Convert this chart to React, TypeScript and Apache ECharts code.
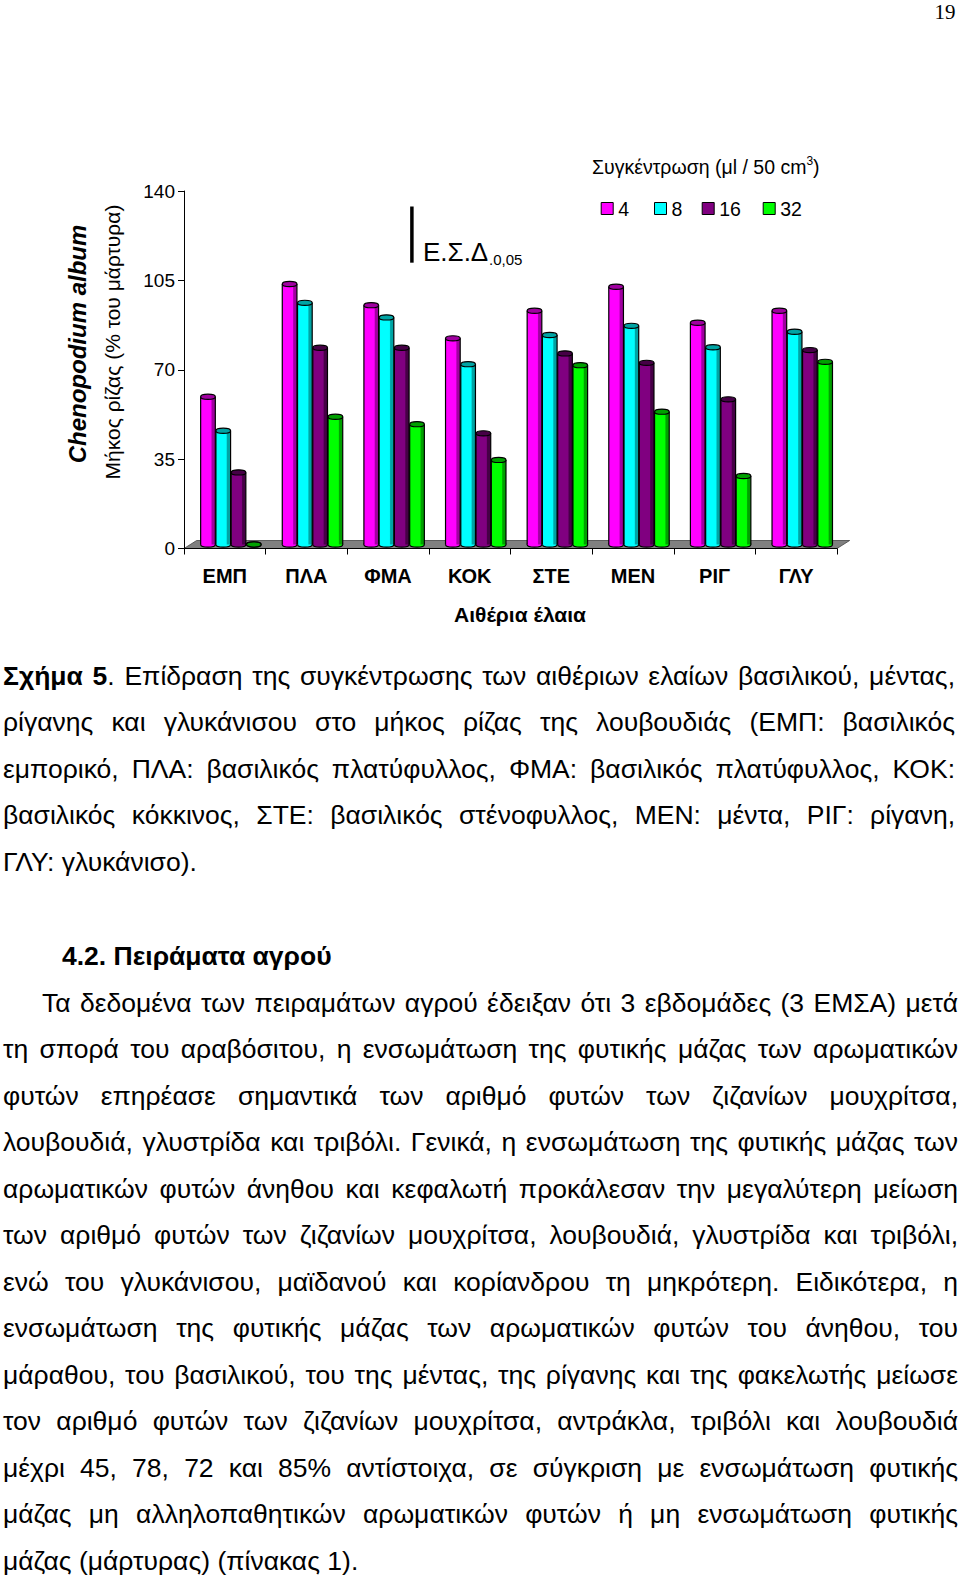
import React, { useEffect, useRef } from "react";
import * as echarts from "echarts";

// ---------- data ----------
const categories = ["ΕΜΠ", "ΠΛΑ", "ΦΜΑ", "ΚΟΚ", "ΣΤΕ", "ΜΕΝ", "ΡΙΓ", "ΓΛΥ"];
const seriesNames = ["4", "8", "16", "32"];
const values4 = [59.4, 103.6, 95.3, 82.3, 93.1, 102.5, 88.4, 93.1];
const values8 = [46.1, 96.2, 90.5, 72.2, 83.6, 87.2, 78.8, 84.9];
const values16 = [29.8, 78.6, 78.6, 45.1, 76.4, 72.7, 58.4, 77.7];
const values32 = [0.5, 51.6, 48.7, 34.7, 71.8, 53.6, 28.4, 73.1];
const seriesValues = [values4, values8, values16, values32];
const yMin = 0;
const yMax = 140;
const yInterval = 35;
const lsdValue = 22;
const yAxisTitle = "Μήκος ρίζας (% του μάρτυρα)";
const speciesTitle = "Chenopodium album";
const xAxisTitle = "Αιθέρια έλαια";
const legendTitle = "Συγκέντρωση (μl / 50 cm";
const pageNumber = "19";

const captionBold = "Σχήμα 5";
const captionLines = [
  ". Επίδραση της συγκέντρωσης των αιθέριων ελαίων βασιλικού, μέντας,",
  "ρίγανης και γλυκάνισου στο μήκος ρίζας της λουβουδιάς (ΕΜΠ: βασιλικός",
  "εμπορικό, ΠΛΑ: βασιλικός πλατύφυλλος, ΦΜΑ: βασιλικός πλατύφυλλος, ΚΟΚ:",
  "βασιλικός κόκκινος, ΣΤΕ: βασιλικός στένοφυλλος, ΜΕΝ: μέντα, ΡΙΓ: ρίγανη,",
  "ΓΛΥ: γλυκάνισο).",
];
const heading = "4.2. Πειράματα αγρού";
const bodyLines = [
  "Τα δεδομένα των πειραμάτων αγρού έδειξαν ότι 3 εβδομάδες (3 ΕΜΣΑ) μετά",
  "τη σπορά του αραβόσιτου, η ενσωμάτωση της φυτικής μάζας των αρωματικών",
  "φυτών επηρέασε σημαντικά των αριθμό φυτών των ζιζανίων μουχρίτσα,",
  "λουβουδιά, γλυστρίδα και τριβόλι. Γενικά, η ενσωμάτωση της φυτικής μάζας των",
  "αρωματικών φυτών άνηθου και κεφαλωτή προκάλεσαν την μεγαλύτερη μείωση",
  "των αριθμό φυτών των ζιζανίων μουχρίτσα, λουβουδιά, γλυστρίδα και τριβόλι,",
  "ενώ του γλυκάνισου, μαϊδανού και κορίανδρου τη μηκρότερη. Ειδικότερα, η",
  "ενσωμάτωση της φυτικής μάζας των αρωματικών φυτών του άνηθου, του",
  "μάραθου, του βασιλικού, του της μέντας, της ρίγανης και της φακελωτής μείωσε",
  "τον αριθμό φυτών των ζιζανίων μουχρίτσα, αντράκλα, τριβόλι και λουβουδιά",
  "μέχρι 45, 78, 72 και 85% αντίστοιχα, σε σύγκριση με ενσωμάτωση φυτικής",
  "μάζας μη αλληλοπαθητικών αρωματικών φυτών ή μη ενσωμάτωση φυτικής",
  "μάζας (μάρτυρας) (πίνακας 1).",
];

// ---------- styles ----------
const COLORS = ["#FF00FF", "#00FFFF", "#800080", "#00FF00"];
const DARK = ["#A000A0", "#00A4A4", "#460046", "#00A000"];
const FONT = "'Liberation Sans', Arial, Helvetica, sans-serif";
const TEXT_SIZE = 26.5;
const LINE_STEP = 46.5;

function barRenderer(s: number) {
  return (params: any, api: any) => {
    const ci = api.value(0);
    const v = api.value(1);
    const base = api.coord([ci, 0]);
    const top = api.coord([ci, v]);
    const catW = api.size([1, 0])[0];
    const bw = catW * 0.187;
    const dx = catW * 0.078;
    const dy = 4;
    const w = bw - 0.6;
    const x = base[0] - 2 * bw + dx + s * bw;
    const bottom = base[1] - dy;
    const topY = Math.min(top[1], bottom);
    const ry = 2.6;
    const fill = new echarts.graphic.LinearGradient(0, 0, 1, 0, [
      { offset: 0, color: COLORS[s] },
      { offset: 0.7, color: COLORS[s] },
      { offset: 0.78, color: DARK[s] },
      { offset: 1, color: DARK[s] },
    ]);
    return {
      type: "group",
      children: [
        {
          type: "ellipse",
          shape: { cx: x + w / 2, cy: bottom, rx: w / 2, ry },
          style: { fill: COLORS[s], stroke: "#000", lineWidth: 1.2 },
        },
        {
          type: "rect",
          shape: { x, y: topY, width: w, height: bottom - topY },
          style: { fill, stroke: null },
        },
        {
          type: "line",
          shape: { x1: x, y1: topY, x2: x, y2: bottom },
          style: { stroke: "#000", lineWidth: 1.2 },
        },
        {
          type: "line",
          shape: { x1: x + w, y1: topY, x2: x + w, y2: bottom },
          style: { stroke: "#000", lineWidth: 1.2 },
        },
        {
          type: "ellipse",
          shape: { cx: x + w / 2, cy: topY, rx: w / 2, ry },
          style: { fill: DARK[s], stroke: "#000", lineWidth: 1.2 },
        },
      ],
    };
  };
}

function floorRenderer(params: any, api: any) {
  const cs = params.coordSys;
  const catW = api.size([1, 0])[0];
  const d = catW * 0.155;
  const yb = cs.y + cs.height;
  return {
    type: "polygon",
    shape: {
      points: [
        [cs.x, yb],
        [cs.x + cs.width, yb],
        [cs.x + cs.width + d, yb - 8],
        [cs.x + d, yb - 8],
      ],
    },
    style: { fill: "#808080", stroke: "#444", lineWidth: 0.8 },
  };
}

function lsdRenderer(params: any, api: any) {
  const cs = params.coordSys;
  const len = api.size([0, lsdValue])[1];
  const x = cs.x + cs.width * 0.349;
  const y0 = cs.y + 15.5;
  return {
    type: "line",
    shape: { x1: x, y1: y0, x2: x, y2: y0 + len },
    style: { stroke: "#000", lineWidth: 3.5 },
  };
}

const legendLefts = [600.7, 654, 701.7, 762.7];

export default function App() {
  const ref = useRef<HTMLDivElement>(null);

  useEffect(() => {
    const chart = echarts.init(ref.current as HTMLDivElement, null, { renderer: "svg" });
    const barSeries = seriesValues.map((vals, s) => ({
      type: "custom",
      name: seriesNames[s],
      data: vals.map((v, i) => [i, v]),
      encode: { x: 0, y: 1 },
      renderItem: barRenderer(s),
      itemStyle: { color: COLORS[s], borderColor: "#000", borderWidth: 1 },
      z: 3,
      silent: true,
    }));
    chart.setOption({
      animation: false,
      textStyle: { fontFamily: FONT },
      grid: { left: 184, right: 123, top: 191, bottom: 91.5, containLabel: false },
      xAxis: {
        type: "category",
        data: categories,
        z: 5,
        axisLine: { lineStyle: { color: "#000", width: 1 } },
        axisTick: { show: true, length: 6, interval: 0, alignWithLabel: false, lineStyle: { color: "#000" } },
        axisLabel: { interval: 0, margin: 17, fontSize: 20, fontWeight: "bold", color: "#000", fontFamily: FONT },
        name: xAxisTitle,
        nameLocation: "middle",
        nameGap: 55,
        nameTextStyle: { fontSize: 21, fontWeight: "bold", color: "#000", fontFamily: FONT, padding: [0, 0, 0, 19] },
      },
      yAxis: {
        type: "value",
        min: yMin,
        max: yMax,
        interval: yInterval,
        z: 5,
        axisLine: { show: true, lineStyle: { color: "#000", width: 1 } },
        axisTick: { show: true, length: 6, lineStyle: { color: "#000" } },
        axisLabel: { margin: 9, fontSize: 19, color: "#000", fontFamily: FONT },
        splitLine: { show: false },
      },
      legend: seriesNames.map((n, i) => ({
        data: [n],
        left: legendLefts[i],
        top: 198.5,
        padding: 0,
        icon: "rect",
        itemWidth: 12,
        itemHeight: 12,
        selectedMode: false,
        textStyle: { fontSize: 19.5, color: "#000", fontFamily: FONT },
        itemStyle: { borderColor: "#000", borderWidth: 1 },
      })),
      series: [
        {
          type: "custom",
          name: "floor",
          data: [[0, 0]],
          encode: { x: 0, y: 1 },
          renderItem: floorRenderer,
          z: 1,
          silent: true,
        },
        ...barSeries,
        {
          type: "custom",
          name: "lsd",
          data: [[0, 0]],
          encode: { x: 0, y: 1 },
          renderItem: lsdRenderer,
          z: 3,
          silent: true,
        },
      ],
      graphic: {
        elements: [
          {
            type: "text",
            x: 945,
            y: 12,
            style: { text: pageNumber, fontSize: 21, fontFamily: "'Liberation Serif', 'Times New Roman', serif", fill: "#000", align: "center", verticalAlign: "middle" },
          },
          {
            type: "text",
            x: 77.5,
            y: 344,
            rotation: Math.PI / 2,
            style: { text: speciesTitle, fontSize: 24, fontWeight: "bold", fontStyle: "italic", fontFamily: FONT, fill: "#000", align: "center", verticalAlign: "middle" },
          },
          {
            type: "text",
            x: 112,
            y: 342,
            rotation: Math.PI / 2,
            style: { text: yAxisTitle, fontSize: 21, fontFamily: FONT, fill: "#000", align: "center", verticalAlign: "middle" },
          },
          {
            type: "text",
            x: 592,
            y: 167,
            style: {
              text: "{a|" + legendTitle + "}{s|3}{a|)}",
              align: "left",
              verticalAlign: "middle",
              rich: {
                a: { fontSize: 19.5, lineHeight: 24, fontFamily: FONT, fill: "#000" },
                s: { fontSize: 12, lineHeight: 14, verticalAlign: "top", fontFamily: FONT, fill: "#000" },
              },
            },
          },
          {
            type: "text",
            x: 423,
            y: 252,
            style: { text: "Ε.Σ.Δ", fontSize: 26, fontFamily: FONT, fill: "#000", align: "left", verticalAlign: "middle" },
          },
          {
            type: "text",
            x: 489,
            y: 259.5,
            style: { text: ".0,05", fontSize: 15, fontFamily: FONT, fill: "#000", align: "left", verticalAlign: "middle" },
          },
        ],
      },
    });
    return () => chart.dispose();
  }, []);

  const lineStyle = (center: number, left: number, width: number, justify: boolean): React.CSSProperties => ({
    position: "absolute",
    left,
    top: center - LINE_STEP / 2,
    width,
    height: LINE_STEP,
    lineHeight: LINE_STEP + "px",
    fontSize: TEXT_SIZE,
    textAlign: justify ? "justify" : "left",
    textAlignLast: justify ? "justify" : "left",
  } as React.CSSProperties);

  const capStart = 676;
  const bodyStart = 1003;

  return (
    <div
      style={{
        position: "absolute",
        left: 0,
        top: 0,
        width: 960,
        height: 1578,
        background: "#fff",
        color: "#000",
        fontFamily: FONT,
        overflow: "hidden",
      }}
    >
      <div ref={ref} style={{ position: "absolute", left: 0, top: 0, width: 960, height: 640 }} />
      {captionLines.map((t, i) => (
        <div key={"c" + i} style={lineStyle(capStart + i * LINE_STEP, 3, 952, i < captionLines.length - 1)}>
          {i === 0 ? <b>{captionBold}</b> : null}
          {t}
        </div>
      ))}
      <div style={{ ...lineStyle(956, 62, 600, false), fontWeight: "bold" }}>{heading}</div>
      {bodyLines.map((t, i) => (
        <div
          key={"b" + i}
          style={lineStyle(bodyStart + i * LINE_STEP, i === 0 ? 42 : 3, i === 0 ? 916 : 955, i < bodyLines.length - 1)}
        >
          {t}
        </div>
      ))}
    </div>
  );
}
